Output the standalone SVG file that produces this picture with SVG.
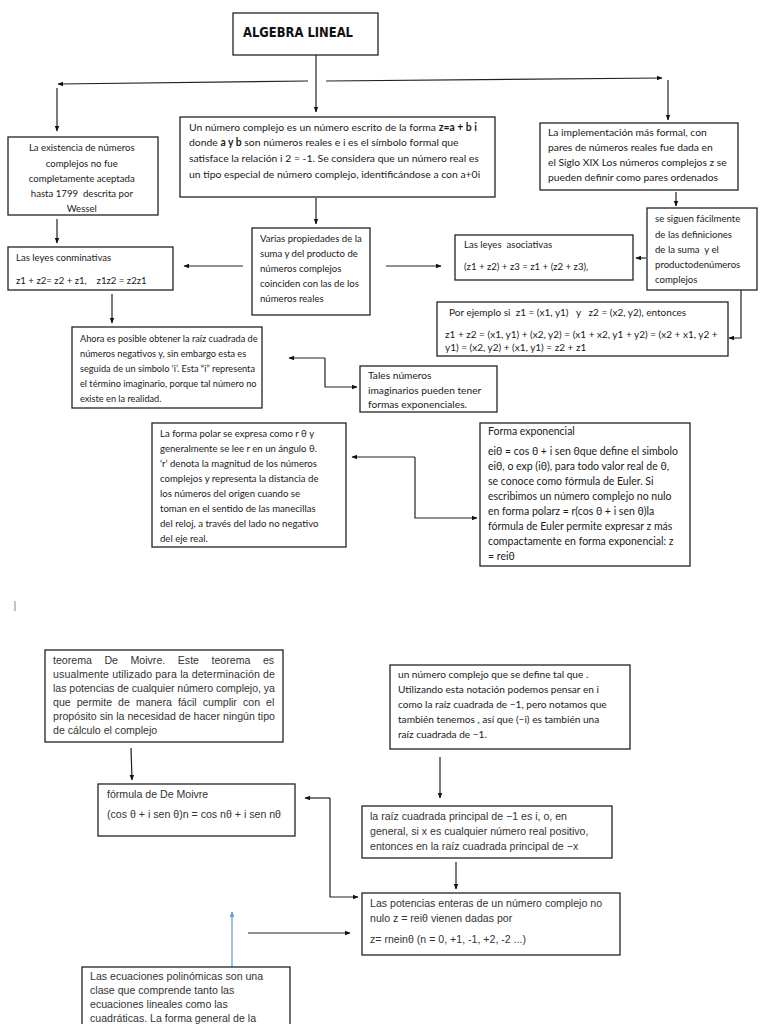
<svg xmlns="http://www.w3.org/2000/svg" width="768" height="1024" viewBox="0 0 768 1024">
<defs>
<marker id="ah" viewBox="0 0 10 10" refX="9" refY="5" markerWidth="6" markerHeight="6" orient="auto-start-reverse" markerUnits="userSpaceOnUse"><path d="M0,1 L10,5 L0,9 z" fill="#111"/></marker>
<marker id="ahb" viewBox="0 0 10 10" refX="9" refY="5" markerWidth="6" markerHeight="6" orient="auto-start-reverse" markerUnits="userSpaceOnUse"><path d="M0,1 L10,5 L0,9 z" fill="#5b9bd5"/></marker>
<style>
text{white-space:pre}
.box{fill:#fff;stroke:#222;stroke-width:1.3}
.c{font-family:Lato,"Open Sans","Liberation Sans",sans-serif;font-size:9.6px;fill:#1a1a1a}
.a{font-family:"Liberation Sans",Arial,sans-serif;font-size:10.6px;fill:#333}
.ln{fill:none;stroke:#222;stroke-width:1.2}
.title{font-family:"DejaVu Sans Condensed","DejaVu Sans",sans-serif;font-weight:bold;font-size:14px;fill:#111}
</style>
</defs>
<rect width="768" height="1024" fill="#fff"/>

<g id="connectors">
<line class="ln" x1="316" y1="55" x2="316" y2="112" marker-end="url(#ah)"/>
<line class="ln" x1="308" y1="81" x2="58" y2="84" marker-end="url(#ah)"/>
<line class="ln" x1="326" y1="81" x2="662" y2="78" marker-end="url(#ah)"/>
<line class="ln" x1="57" y1="88" x2="57" y2="131" marker-end="url(#ah)"/>
<line class="ln" x1="668" y1="80" x2="668" y2="120" marker-end="url(#ah)"/>
<line class="ln" x1="57" y1="219" x2="57" y2="243" marker-end="url(#ah)"/>
<line class="ln" x1="316" y1="198" x2="316" y2="224" marker-end="url(#ah)"/>
<line class="ln" x1="243" y1="266" x2="184" y2="266" marker-end="url(#ah)"/>
<line class="ln" x1="386" y1="266" x2="441" y2="266" marker-end="url(#ah)"/>
<line class="ln" x1="676" y1="192" x2="676" y2="206" marker-end="url(#ah)"/>
<line class="ln" x1="646" y1="258" x2="636" y2="258" marker-end="url(#ah)"/>
<path class="ln" d="M741,272 L757,272" marker-end="url(#ah)"/>
<path class="ln" d="M741,272 L741,338 L729,338" marker-end="url(#ah)"/>
<line class="ln" x1="112" y1="294" x2="112" y2="323" marker-end="url(#ah)"/>
<path class="ln" d="M325,358 L289,358" marker-end="url(#ah)"/>
<path class="ln" d="M325,358 L325,387 L357,387" marker-end="url(#ah)"/>
<path class="ln" d="M415,457 L352,457" marker-end="url(#ah)"/>
<path class="ln" d="M415,457 L415,518 L477,518" marker-end="url(#ah)"/>
<line x1="15" y1="601" x2="15" y2="611" stroke="#888" stroke-width="1"/>
<line class="ln" x1="131" y1="748" x2="132" y2="780" marker-end="url(#ah)"/>
<path class="ln" d="M330,798 L305,798" marker-end="url(#ah)"/>
<path class="ln" d="M330,798 L330,897 L358,897" marker-end="url(#ah)"/>
<line class="ln" x1="440" y1="757" x2="440" y2="798" marker-end="url(#ah)"/>
<line class="ln" x1="456" y1="862" x2="456" y2="889" marker-end="url(#ah)"/>
<line class="ln" x1="248" y1="933" x2="350" y2="933" marker-end="url(#ah)"/>
<line x1="232" y1="967" x2="232" y2="912" stroke="#5b9bd5" stroke-width="1.2" marker-end="url(#ahb)"/>
</g>

<g id="title">
<rect class="box" x="233" y="13" width="145" height="42"/>
<text class="title" x="243" y="37" textLength="110" lengthAdjust="spacingAndGlyphs">ALGEBRA LINEAL</text>
</g>

<g id="n-existencia">
<rect class="box" x="8" y="137" width="150" height="78"/>
<text class="c" text-anchor="middle">
<tspan x="83" y="151">La existencia de números</tspan>
<tspan x="83" y="167">complejos no fue</tspan>
<tspan x="83" y="182">completamente aceptada</tspan>
<tspan x="83" y="197">hasta 1799  descrita por</tspan>
<tspan x="83" y="212">Wessel</tspan>
</text>
</g>

<g id="n-complejo">
<rect class="box" x="180" y="117" width="315" height="80"/>
<text class="c" style="font-size:10.4px">
<tspan x="189" y="131">Un número complejo es un número escrito de la forma <tspan font-weight="bold">z=a + b i</tspan></tspan>
<tspan x="189" y="146">donde <tspan font-weight="bold">a y b</tspan> son números reales e i es el símbolo formal que</tspan>
<tspan x="189" y="162">satisface la relación i 2 = -1. Se considera que un número real es</tspan>
<tspan x="189" y="178">un tipo especial de número complejo, identificándose a con a+0i</tspan>
</text>
</g>

<g id="n-implementacion">
<rect class="box" x="540" y="123" width="198" height="67"/>
<text class="c" style="font-size:10.3px">
<tspan x="548" y="136">La implementación más formal, con</tspan>
<tspan x="548" y="151">pares de números reales fue dada en</tspan>
<tspan x="548" y="166">el Siglo XIX Los números complejos z se</tspan>
<tspan x="548" y="181">pueden definir como pares ordenados</tspan>
</text>
</g>

<g id="n-conmutativas">
<rect class="box" x="8" y="247" width="165" height="43"/>
<text class="c">
<tspan x="16" y="261">Las leyes conminativas</tspan>
<tspan x="16" y="284">z1 + z2= z2 + z1,    z1z2 = z2z1</tspan>
</text>
</g>

<g id="n-varias">
<rect class="box" x="252" y="228" width="118" height="87"/>
<text class="c">
<tspan x="260" y="242">Varias propiedades de la</tspan>
<tspan x="260" y="257">suma y del producto de</tspan>
<tspan x="260" y="272">números complejos</tspan>
<tspan x="260" y="287">coinciden con las de los</tspan>
<tspan x="260" y="302">números reales</tspan>
</text>
</g>

<g id="n-asociativas">
<rect class="box" x="455" y="235" width="178" height="45"/>
<text class="c">
<tspan x="464" y="248">Las leyes  asociativas</tspan>
<tspan x="464" y="270">(z1 + z2) + z3 = z1 + (z2 + z3),</tspan>
</text>
</g>

<g id="n-siguen">
<rect class="box" x="647" y="208" width="110" height="82"/>
<text class="c">
<tspan x="655" y="222">se siguen fácilmente</tspan>
<tspan x="655" y="238">de las definiciones</tspan>
<tspan x="655" y="253">de la suma  y el</tspan>
<tspan x="655" y="268">productodenúmeros</tspan>
<tspan x="655" y="283">complejos</tspan>
</text>
</g>

<g id="n-ejemplo">
<rect class="box" x="437" y="302" width="291" height="54"/>
<text class="c" style="font-size:10px">
<tspan x="449" y="316">Por ejemplo si  z1 = (x1, y1)   y   z2 = (x2, y2), entonces</tspan>
<tspan x="445" y="338">z1 + z2 = (x1, y1) + (x2, y2) = (x1 + x2, y1 + y2) = (x2 + x1, y2 +</tspan>
<tspan x="445" y="351">y1) = (x2, y2) + (x1, y1) = z2 + z1</tspan>
</text>
</g>

<g id="n-ahora">
<rect class="box" x="72" y="327" width="190" height="81"/>
<text class="c" style="font-size:9.2px">
<tspan x="80" y="342">Ahora es posible obtener la raíz cuadrada de</tspan>
<tspan x="80" y="357">números negativos y, sin embargo esta es</tspan>
<tspan x="80" y="372">seguida de un símbolo ‘i’. Esta “i” representa</tspan>
<tspan x="80" y="387">el término imaginario, porque tal número no</tspan>
<tspan x="80" y="402">existe en la realidad.</tspan>
</text>
</g>

<g id="n-tales">
<rect class="box" x="360" y="366" width="137" height="46"/>
<text class="c" style="font-size:10.2px">
<tspan x="368" y="379">Tales números</tspan>
<tspan x="368" y="394">imaginarios pueden tener</tspan>
<tspan x="368" y="408">formas exponenciales.</tspan>
</text>
</g>

<g id="n-polar">
<rect class="box" x="152" y="423" width="194" height="124"/>
<text class="c">
<tspan x="160" y="437">La forma polar se expresa como r θ y</tspan>
<tspan x="160" y="452">generalmente se lee r en un ángulo θ.</tspan>
<tspan x="160" y="467">‘r’ denota la magnitud de los números</tspan>
<tspan x="160" y="482">complejos y representa la distancia de</tspan>
<tspan x="160" y="497">los números del origen cuando se</tspan>
<tspan x="160" y="512">toman en el sentido de las manecillas</tspan>
<tspan x="160" y="527">del reloj, a través del lado no negativo</tspan>
<tspan x="160" y="542">del eje real.</tspan>
</text>
</g>

<g id="n-exponencial">
<rect class="box" x="480" y="423" width="210" height="143"/>
<text class="c" style="font-size:10.5px">
<tspan x="488" y="435">Forma exponencial</tspan>
<tspan x="488" y="455">eiθ = cos θ + i sen θque define el simbolo</tspan>
<tspan x="488" y="470">eiθ, o exp (iθ), para todo valor real de θ,</tspan>
<tspan x="488" y="485">se conoce como fórmula de Euler. Si</tspan>
<tspan x="488" y="500">escribimos un número complejo no nulo</tspan>
<tspan x="488" y="515">en forma polarz = r(cos θ + i sen θ)la</tspan>
<tspan x="488" y="530">fórmula de Euler permite expresar z más</tspan>
<tspan x="488" y="545">compactamente en forma exponencial: z</tspan>
<tspan x="488" y="560">= reiθ</tspan>
</text>
</g>

<g id="n-teorema">
<rect class="box" x="45" y="650" width="238" height="92"/>
<text class="a">
<tspan x="53" y="664" word-spacing="9.6">teorema De Moivre. Este teorema es</tspan>
<tspan x="53" y="678" textLength="222" lengthAdjust="spacing">usualmente utilizado para la determinación de</tspan>
<tspan x="53" y="692" textLength="222" lengthAdjust="spacing">las potencias de cualquier número complejo, ya</tspan>
<tspan x="53" y="706" word-spacing="3.1">que permite de manera fácil cumplir con el</tspan>
<tspan x="53" y="720" textLength="222" lengthAdjust="spacing">propósito sin la necesidad de hacer ningún tipo</tspan>
<tspan x="53" y="734">de cálculo el complejo</tspan>
</text>
</g>

<g id="n-formula">
<rect class="box" x="98" y="784" width="197" height="52"/>
<text class="a">
<tspan x="107" y="798">fórmula de De Moivre</tspan>
<tspan x="107" y="818">(cos θ + i sen θ)n = cos nθ + i sen nθ</tspan>
</text>
</g>

<g id="n-definido">
<rect class="box" x="390" y="665" width="240" height="84"/>
<text class="c" style="font-size:10.1px">
<tspan x="398" y="678">un número complejo que se define tal que .</tspan>
<tspan x="398" y="693">Utilizando esta notación podemos pensar en i</tspan>
<tspan x="398" y="708">como la raíz cuadrada de −1, pero notamos que</tspan>
<tspan x="398" y="723">también tenemos , así que (−i) es también una</tspan>
<tspan x="398" y="738">raíz cuadrada de −1.</tspan>
</text>
</g>

<g id="n-raiz">
<rect class="box" x="362" y="806" width="250" height="52"/>
<text class="a">
<tspan x="370" y="820">la raíz cuadrada principal de −1 es i, o, en</tspan>
<tspan x="370" y="835">general, si x es cualquier número real positivo,</tspan>
<tspan x="370" y="850">entonces en la raíz cuadrada principal de −x</tspan>
</text>
</g>

<g id="n-potencias">
<rect class="box" x="362" y="893" width="258" height="62"/>
<text class="a">
<tspan x="370" y="907">Las potencias enteras de un número complejo no</tspan>
<tspan x="370" y="922">nulo z = reiθ vienen dadas por</tspan>
<tspan x="370" y="943">z= rneinθ (n = 0, +1, -1, +2, -2 ...)</tspan>
</text>
</g>

<g id="n-ecuaciones">
<rect class="box" x="82" y="967" width="208" height="70"/>
<text class="a">
<tspan x="90" y="980">Las ecuaciones polinómicas son una</tspan>
<tspan x="90" y="994">clase que comprende tanto las</tspan>
<tspan x="90" y="1008">ecuaciones lineales como las</tspan>
<tspan x="90" y="1022">cuadráticas. La forma general de la</tspan>
</text>
</g>
</svg>
